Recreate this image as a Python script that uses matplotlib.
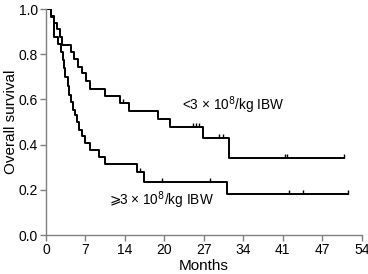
import matplotlib
matplotlib.use("Agg")
import matplotlib.pyplot as plt
import numpy as np

plt.rcParams['font.family'] = ['Liberation Sans', 'DejaVu Sans']

# <3 x 10^8/kg IBW group
low_times = [0.9, 1.4, 1.9, 2.4, 2.8, 4.3, 4.8, 5.4, 6.1, 6.9, 7.5, 10.1,
             12.6, 14.2, 19.1, 21.2, 26.9, 31.3]
low_surv = [0.97, 0.94, 0.91, 0.877, 0.843, 0.811, 0.78, 0.745, 0.716, 0.682,
            0.648, 0.616, 0.583, 0.548, 0.514, 0.48, 0.428, 0.339]
low_end = 51.0
low_censor = [13.2, 25.2, 25.6, 26.1, 29.6, 30.2, 40.9, 41.3, 51.0]

# >=3 x 10^8/kg IBW group
high_times = [0.8, 1.3, 2.1, 2.6, 2.9, 3.1, 3.3, 3.7, 4.0, 4.3, 4.6, 4.9,
              5.3, 5.7, 6.1, 6.6, 7.5, 9.1, 10.1, 15.5, 16.7, 30.9]
high_surv = [0.966, 0.875, 0.845, 0.81, 0.775, 0.74, 0.70, 0.66, 0.62, 0.59,
             0.555, 0.53, 0.50, 0.465, 0.44, 0.406, 0.376, 0.345, 0.313,
             0.28, 0.236, 0.181]
high_end = 51.7
high_censor = [16.1, 19.9, 28.1, 41.6, 43.9, 51.7]

xticks = np.linspace(0, 54, 9)
xticklabels = ['0', '7', '14', '20', '27', '34', '41', '47', '54']
yticks = [0.0, 0.2, 0.4, 0.6, 0.8, 1.0]


def km_curve(ax, times, surv, end, censor):
    t = np.array([0] + times + [end])
    s = np.array([1.0] + surv + [surv[-1]])
    ax.step(t, s, where='post', color='black', lw=1.4)
    idx = np.searchsorted(t, censor, side='right') - 1
    ax.plot(censor, s[idx], linestyle='none', marker=[(0, 0), (0, 1)],
            markersize=6, markeredgewidth=1.0, color='black')


fig = plt.figure(figsize=(3.68, 2.74), dpi=100)
ax = fig.add_axes([0.125, 0.142, 0.858, 0.825])

km_curve(ax, low_times, low_surv, low_end, low_censor)
km_curve(ax, high_times, high_surv, high_end, high_censor)

ax.set_xlim(0, 54)
ax.set_ylim(0, 1.0)
ax.set_xticks(xticks)
ax.set_xticklabels(xticklabels)
ax.set_yticks(yticks)
ax.set_yticklabels(['%.1f' % v for v in yticks])
for side in ['top', 'right']:
    ax.spines[side].set_visible(False)
for side in ['left', 'bottom']:
    ax.spines[side].set_color('#808080')
    ax.spines[side].set_linewidth(1.0)
ax.tick_params(direction='out', length=4, width=1.0, color='#808080',
               labelsize=10, pad=2)
ax.set_xlabel('Months', fontsize=11, labelpad=1)
ax.set_ylabel('Overall survival', fontsize=11)
ax.yaxis.set_label_coords(-0.09, 0.5)

ax.text(23.2, 0.575, r'<3 × 10$^{8}$/kg IBW', fontsize=9.8, va='center')
ax.text(10.4, 0.155, r'$\geqslant\!\!$3 × 10$^{8}$/kg IBW', fontsize=9.8,
        va='center')

fig.savefig('out.png', dpi=100)
